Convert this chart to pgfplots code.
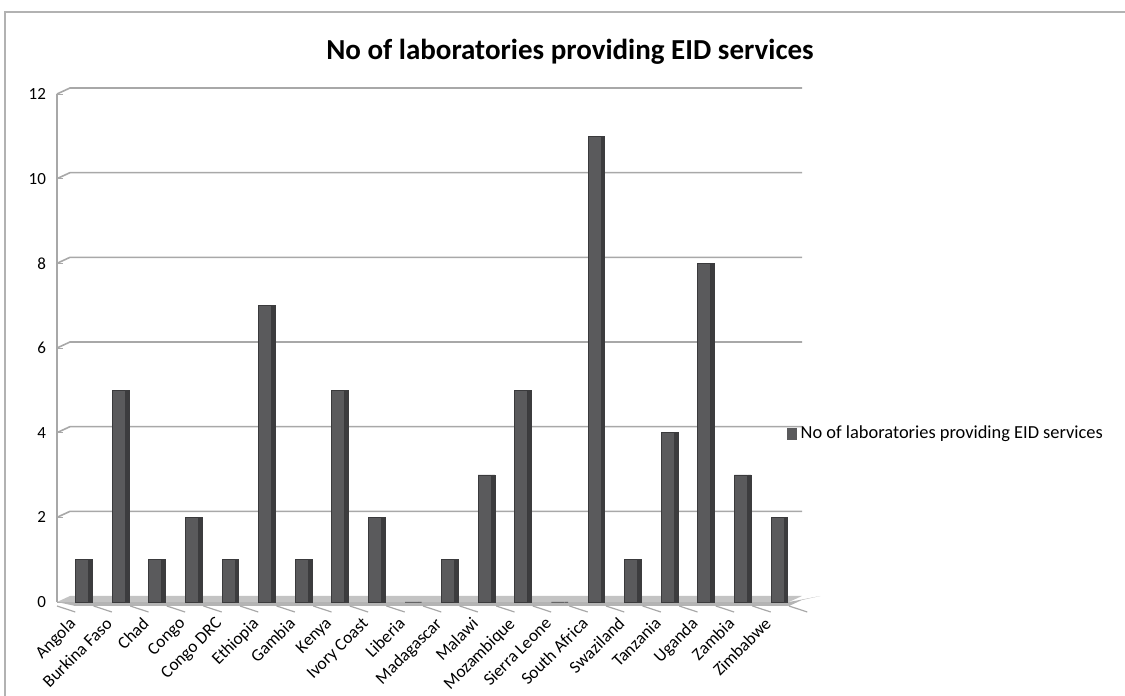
\documentclass[border=0pt]{standalone}
\usepackage{pgfplots}
\pgfplotsset{compat=1.18}
\usepackage{fontspec}
\setmainfont{Carlito}
\definecolor{barfill}{HTML}{5A5A5C}
\definecolor{barside}{HTML}{3C3C3E}
\definecolor{bardraw}{HTML}{3A3A3C}
\definecolor{gridc}{HTML}{A8A8A8}
\definecolor{floorc}{HTML}{B4B4B4}
\pgfplotstableread{
x y
0 1
1 5
2 1
3 2
4 1
5 7
6 1
7 5
8 2
9 0
10 1
11 3
12 5
13 0
14 11
15 1
16 4
17 8
18 3
19 2
}\labs
\begin{document}
\begin{tikzpicture}
\useasboundingbox (0,0) rectangle (562.5pt,348pt);
% chart frame
\draw[gray!60, line width=1pt] (2.5pt,0) -- (2.5pt,342pt) -- (562.5pt,342pt);
\node[font=\bfseries\fontsize{14.5}{16}\selectfont] at (285pt,322pt) {No of laboratories providing EID services};
\begin{axis}[
  at={(28.5pt,47pt)}, anchor=south west,
  scale only axis, width=366pt, height=254pt,
  xmin=-0.5, xmax=19.5, ymin=0, ymax=12,
  ytick={0,2,...,12},
  xtick={0,...,19},
  xticklabels={Angola,Burkina Faso,Chad,Congo,Congo DRC,Ethiopia,Gambia,Kenya,Ivory Coast,Liberia,Madagascar,Malawi,Mozambique,Sierra Leone,South Africa,Swaziland,Tanzania,Uganda,Zambia,Zimbabwe},
  xticklabel style={rotate=45, anchor=north east, inner sep=1pt, font=\fontsize{8.7}{9}\selectfont, xshift=-4.3pt, yshift=0.8pt},
  yticklabel style={font=\fontsize{8.5}{9}\selectfont, xshift=-2pt},
  /pgf/number format/assume math mode=true,
  axis x line*=bottom, axis y line*=left,
  x axis line style={draw=none},
  y axis line style={gridc, line width=0.8pt},
  major tick length=3pt,
  tick style={gridc},
  xtick style={draw=none},
  ymajorgrids=false,
  ybar, bar width=6.5pt,
  clip=false,
  legend style={at={(364pt,84pt)}, anchor=west, draw=none, fill=none,
     font=\fontsize{9.2}{10}\selectfont, legend cell align=left, inner sep=1pt},
  legend image code/.code={\fill[barfill] (0cm,-0.1cm) rectangle (0.15cm,0.1cm);},
]
% floor and gridlines (decoration)
\fill[floorc] (axis cs:-0.5,0) -- ++(0,-2pt) -- ([yshift=-2pt]axis cs:19.5,0) -- ++(6.5pt,3pt) -- ++(0,2pt) -- (axis cs:19.5,0) -- cycle;
\fill[floorc!80] (axis cs:-0.5,0) -- ++(6.5pt,3pt) -- ([xshift=6.5pt,yshift=3pt]axis cs:19.5,0) -- (axis cs:19.5,0) -- cycle;
\pgfplotsinvokeforeach{2,4,...,12}{
  \draw[gridc, line width=0.8pt] (axis cs:-0.5,#1) -- ++(6.5pt,3pt) -- ([xshift=6.5pt,yshift=3pt]axis cs:19.5,#1);
}
\pgfplotsinvokeforeach{0,...,20}{
  \draw[gridc, line width=0.6pt] ([yshift=-2pt]axis cs:#1-0.5,0) -- ++(0,-3pt);
}
\addplot[fill=barfill, draw=bardraw, line width=0.4pt, bar shift=3.4pt] table[x=x,y=y] {\labs};
\addlegendentry{No of laboratories providing EID services}
\addplot[fill=barside, draw=barside, line width=0.3pt, bar width=1.8pt, bar shift=7.6pt, forget plot] table[x=x,y=y] {\labs};
\end{axis}
\end{tikzpicture}
\end{document}
